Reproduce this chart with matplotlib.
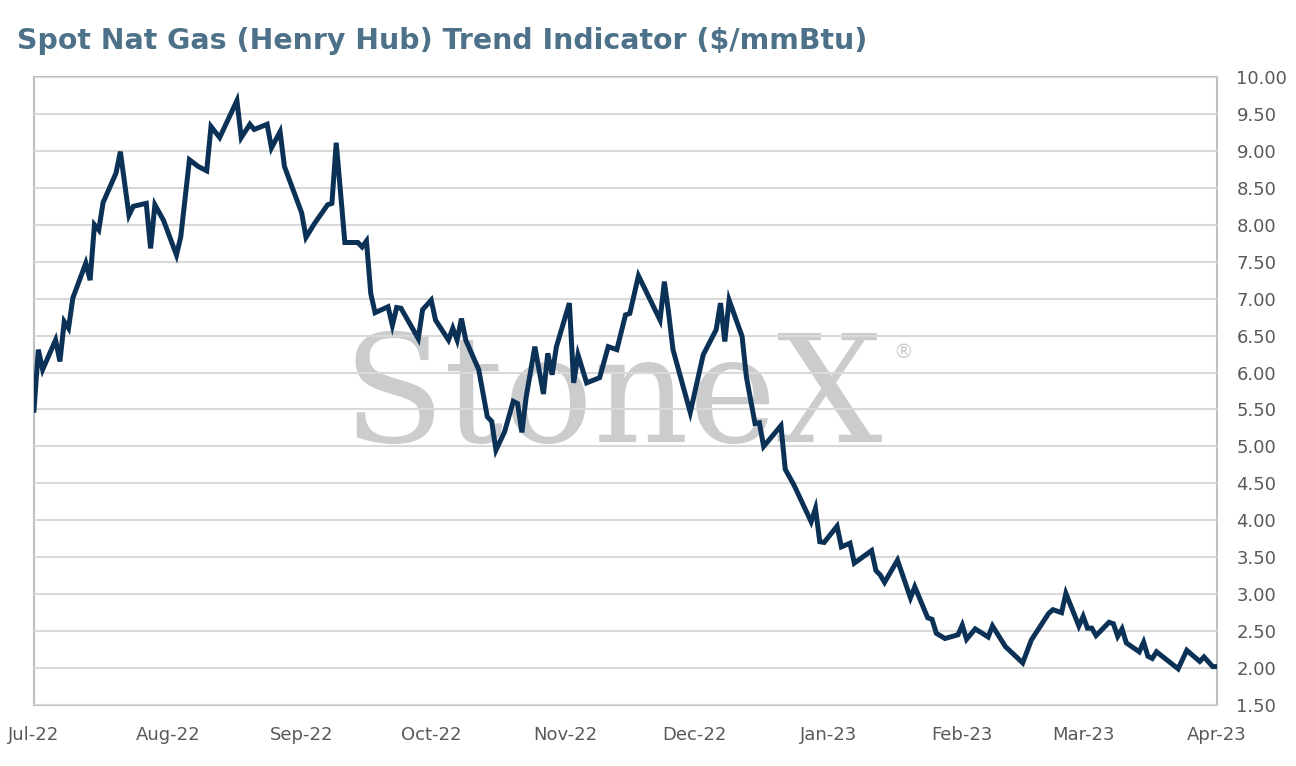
import matplotlib
matplotlib.use("Agg")
import matplotlib.pyplot as plt
import pandas as pd

title = "Spot Nat Gas (Henry Hub) Trend Indicator ($/mmBtu)"

dates = [
    "2022-07-01", "2022-07-02", "2022-07-03", "2022-07-06", "2022-07-07", "2022-07-08",
    "2022-07-09", "2022-07-10", "2022-07-13", "2022-07-14", "2022-07-15", "2022-07-16",
    "2022-07-17", "2022-07-20", "2022-07-21", "2022-07-23", "2022-07-24", "2022-07-27",
    "2022-07-28", "2022-07-29", "2022-07-31", "2022-08-03", "2022-08-04", "2022-08-06",
    "2022-08-08", "2022-08-10", "2022-08-11", "2022-08-13", "2022-08-17", "2022-08-18",
    "2022-08-20", "2022-08-21", "2022-08-24", "2022-08-25", "2022-08-27", "2022-08-28",
    "2022-09-01", "2022-09-02", "2022-09-04", "2022-09-07", "2022-09-08", "2022-09-09",
    "2022-09-11", "2022-09-14", "2022-09-15", "2022-09-16", "2022-09-17", "2022-09-18",
    "2022-09-21", "2022-09-22", "2022-09-23", "2022-09-24", "2022-09-28", "2022-09-29",
    "2022-10-01", "2022-10-02", "2022-10-05", "2022-10-06", "2022-10-07", "2022-10-08",
    "2022-10-09", "2022-10-12", "2022-10-14", "2022-10-15", "2022-10-16", "2022-10-18",
    "2022-10-20", "2022-10-21", "2022-10-22", "2022-10-23", "2022-10-25", "2022-10-27",
    "2022-10-28", "2022-10-29", "2022-10-30", "2022-11-02", "2022-11-03", "2022-11-04",
    "2022-11-06", "2022-11-09", "2022-11-11", "2022-11-13", "2022-11-15", "2022-11-16",
    "2022-11-18", "2022-11-23", "2022-11-24", "2022-11-25", "2022-11-26", "2022-11-30",
    "2022-12-03", "2022-12-06", "2022-12-07", "2022-12-08", "2022-12-09", "2022-12-12",
    "2022-12-13", "2022-12-15", "2022-12-16", "2022-12-17", "2022-12-21", "2022-12-22",
    "2022-12-24", "2022-12-28", "2022-12-29", "2022-12-30", "2022-12-31", "2023-01-03",
    "2023-01-04", "2023-01-06", "2023-01-07", "2023-01-11", "2023-01-12", "2023-01-13",
    "2023-01-14", "2023-01-17", "2023-01-20", "2023-01-21", "2023-01-24", "2023-01-25",
    "2023-01-26", "2023-01-28", "2023-01-31", "2023-02-01", "2023-02-02", "2023-02-04",
    "2023-02-07", "2023-02-08", "2023-02-11", "2023-02-15", "2023-02-17", "2023-02-21",
    "2023-02-22", "2023-02-24", "2023-02-25", "2023-02-28", "2023-03-01", "2023-03-02",
    "2023-03-03", "2023-03-04", "2023-03-07", "2023-03-08", "2023-03-09", "2023-03-10",
    "2023-03-11", "2023-03-14", "2023-03-15", "2023-03-16", "2023-03-17", "2023-03-18",
    "2023-03-23", "2023-03-25", "2023-03-28", "2023-03-29", "2023-03-31", "2023-04-01",
]

prices = [
    5.49, 6.31, 6.04, 6.44, 6.15, 6.69,
    6.60, 7.01, 7.48, 7.25, 8.00, 7.93,
    8.30, 8.70, 8.99, 8.13, 8.25, 8.29,
    7.68, 8.27, 8.06, 7.59, 7.84, 8.88,
    8.79, 8.73, 9.33, 9.18, 9.68, 9.18,
    9.36, 9.29, 9.36, 9.04, 9.26, 8.79,
    8.16, 7.83, 8.02, 8.27, 8.29, 9.11,
    7.76, 7.76, 7.70, 7.78, 7.07, 6.81,
    6.89, 6.64, 6.88, 6.87, 6.46, 6.85,
    6.98, 6.71, 6.44, 6.60, 6.44, 6.73,
    6.44, 6.04, 5.40, 5.34, 4.95, 5.20,
    5.61, 5.58, 5.19, 5.67, 6.35, 5.71,
    6.26, 5.97, 6.35, 6.94, 5.86, 6.24,
    5.86, 5.93, 6.35, 6.31, 6.78, 6.80,
    7.31, 6.71, 7.23, 6.80, 6.31, 5.46,
    6.24, 6.58, 6.94, 6.42, 6.98, 6.49,
    5.94, 5.31, 5.32, 5.00, 5.28, 4.69,
    4.48, 3.98, 4.16, 3.71, 3.70, 3.92,
    3.64, 3.69, 3.42, 3.59, 3.32, 3.26,
    3.16, 3.46, 2.95, 3.10, 2.68, 2.66,
    2.47, 2.40, 2.45, 2.58, 2.39, 2.53,
    2.42, 2.57, 2.29, 2.07, 2.38, 2.74,
    2.79, 2.75, 3.01, 2.57, 2.70, 2.54,
    2.54, 2.44, 2.62, 2.60, 2.43, 2.53,
    2.34, 2.22, 2.35, 2.16, 2.13, 2.22,
    1.99, 2.24, 2.09, 2.15, 2.02, 2.02,
]

month_ticks = ["2022-07-01", "2022-08-01", "2022-09-01", "2022-10-01", "2022-11-01",
               "2022-12-01", "2023-01-01", "2023-02-01", "2023-03-01", "2023-04-01"]
month_labels = ["Jul-22", "Aug-22", "Sep-22", "Oct-22", "Nov-22",
                "Dec-22", "Jan-23", "Feb-23", "Mar-23", "Apr-23"]
y_ticks = [1.5 + 0.5 * i for i in range(18)]

plt.rcParams['font.family'] = ['DejaVu Sans']

x = pd.to_datetime(dates)
fig = plt.figure(figsize=(12.96, 7.66), dpi=100)
ax = fig.add_axes([34 / 1296, 1 - 705 / 766, (1217 - 34) / 1296, (705 - 77) / 766])

ax.plot(x, prices, color="#0b3256", linewidth=3.6, solid_joinstyle="miter", zorder=3)

ax.set_xlim(pd.Timestamp("2022-07-01"), pd.Timestamp("2023-04-01"))
ax.set_ylim(1.5, 10.0)
ax.set_yticks(y_ticks)
ax.set_yticklabels([f"{v:.2f}" for v in y_ticks])
ax.yaxis.tick_right()
ax.set_xticks(pd.to_datetime(month_ticks))
ax.set_xticklabels(month_labels)
ax.tick_params(axis="both", length=0, labelsize=13, labelcolor="#595959")
ax.tick_params(axis="x", pad=15)
ax.tick_params(axis="y", pad=14)
ax.grid(axis="y", color="#d9d9d9", linewidth=1.5, zorder=1)
ax.set_axisbelow(False)
for s in ax.spines.values():
    s.set_color("#bfbfbf")
    s.set_linewidth(1.5)
    s.set_zorder(2)

ax.text(0.489, 0.418, "StoneX", transform=ax.transAxes, ha="center", va="baseline",
        fontsize=107, color="#cbccce", family="DejaVu Serif", zorder=0)
ax.text(0.735, 0.562, "®", transform=ax.transAxes, ha="center", va="center",
        fontsize=14, color="#cbccce", zorder=0)

fig.text(17 / 1296, 1 - 41 / 766, title, ha="left", va="center", fontsize=20.4,
         fontweight="bold", color="#4d7189")

fig.savefig("out.png", dpi=100, facecolor="white")
